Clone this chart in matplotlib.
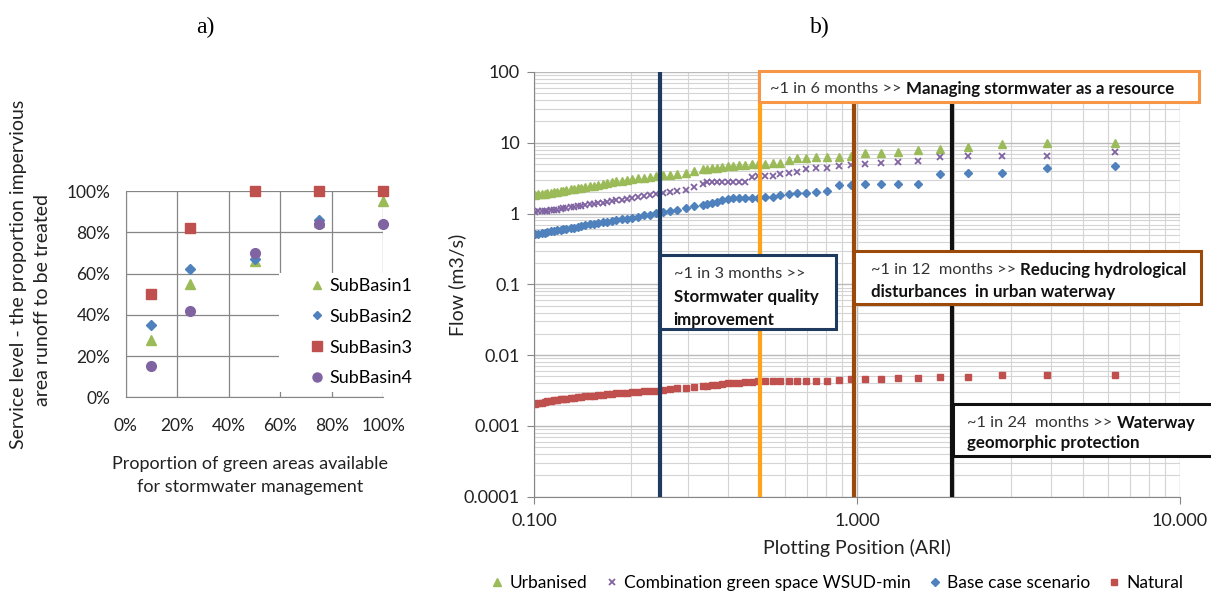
import numpy as np
import matplotlib
matplotlib.use('Agg')
import matplotlib.pyplot as plt
from matplotlib.patches import Rectangle
from matplotlib.text import Annotation
from matplotlib.ticker import PercentFormatter, FuncFormatter, LogLocator, NullFormatter

plt.rcParams['font.family'] = ['Lato', 'DejaVu Sans']

# panel a) data
green_share = [0.10, 0.25, 0.50, 0.75, 1.00]
subbasin1 = [0.28, 0.55, 0.66, 0.85, 0.95]
subbasin2 = [0.35, 0.62, 0.67, 0.86, 0.84]
subbasin3 = [0.50, 0.82, 1.00, 1.00, 1.00]
subbasin4 = [0.15, 0.42, 0.70, 0.84, 0.84]

# panel b) data - plotting position (ARI, years) and flow (m3/s)
ari = [6.277, 3.886, 2.814, 2.205, 1.813, 1.540, 1.338, 1.183, 1.060, 0.960,
       0.877, 0.808, 0.749, 0.697, 0.653, 0.614, 0.579, 0.548, 0.520, 0.495,
       0.472, 0.451, 0.432, 0.414, 0.398, 0.383, 0.369, 0.356, 0.344, 0.333,
       0.313, 0.295, 0.278, 0.264, 0.251, 0.239, 0.229, 0.219, 0.210, 0.201,
       0.194, 0.187, 0.180, 0.174, 0.168, 0.163, 0.158, 0.153, 0.149, 0.144,
       0.140, 0.137, 0.133, 0.130, 0.126, 0.123, 0.121, 0.118, 0.115, 0.113,
       0.110, 0.108, 0.106, 0.103, 0.101]
urbanised = [10.0, 9.8, 9.5, 8.8, 8.3, 7.9, 7.5, 7.2, 7.1, 6.6,
             6.35, 6.2, 6.2, 6.0, 6.0, 5.7, 5.2, 5.15, 5.0, 5.0,
             4.95, 4.9, 4.85, 4.75, 4.65, 4.55, 4.45, 4.4, 4.3, 4.2,
             3.95, 3.7, 3.6, 3.52, 3.45, 3.35, 3.28, 3.22, 3.17, 3.1,
             3.0, 2.92, 2.85, 2.78, 2.7, 2.62, 2.55, 2.49, 2.43, 2.38,
             2.32, 2.27, 2.23, 2.19, 2.15, 2.11, 2.07, 2.03, 2.0, 1.97,
             1.94, 1.91, 1.89, 1.87, 1.84]
combination = [7.3, 6.6, 6.5, 6.5, 6.3, 5.6, 5.35, 5.25, 5.0, 4.8,
               4.75, 4.35, 4.35, 4.2, 3.85, 3.7, 3.65, 3.4, 3.4, 3.35,
               3.3, 2.8, 2.8, 2.8, 2.8, 2.8, 2.8, 2.78, 2.75, 2.65,
               2.4, 2.18, 2.07, 2.01, 1.95, 1.9, 1.83, 1.78, 1.73, 1.68,
               1.63, 1.58, 1.54, 1.5, 1.46, 1.43, 1.4, 1.38, 1.35, 1.33,
               1.3, 1.27, 1.25, 1.22, 1.2, 1.18, 1.16, 1.14, 1.13, 1.12,
               1.1, 1.09, 1.08, 1.07, 1.06]
base_case = [4.75, 4.4, 3.8, 3.7, 3.6, 2.65, 2.65, 2.65, 2.65, 2.55,
             2.5, 2.1, 2.0, 1.95, 1.94, 1.88, 1.82, 1.72, 1.7, 1.68,
             1.68, 1.68, 1.67, 1.65, 1.6, 1.58, 1.45, 1.42, 1.38, 1.34,
             1.28, 1.2, 1.14, 1.08, 1.04, 1.01, 0.97, 0.94, 0.9, 0.87,
             0.85, 0.83, 0.81, 0.79, 0.77, 0.75, 0.73, 0.72, 0.71, 0.69,
             0.67, 0.65, 0.63, 0.62, 0.61, 0.6, 0.59, 0.58, 0.57, 0.56,
             0.55, 0.54, 0.53, 0.52, 0.51]
natural = [0.0053, 0.0052, 0.0052, 0.0049, 0.0049, 0.00476, 0.00476, 0.00466, 0.0046, 0.00466,
           0.0045, 0.00436, 0.00436, 0.00436, 0.00436, 0.0043, 0.0043, 0.0043, 0.0043, 0.00427,
           0.0042, 0.0042, 0.0041, 0.00405, 0.004, 0.0039, 0.0038, 0.00375, 0.0037, 0.00365,
           0.0036, 0.00348, 0.0034, 0.0033, 0.0032, 0.00315, 0.0031, 0.00307, 0.00304, 0.003,
           0.00296, 0.00292, 0.00288, 0.00284, 0.0028, 0.00276, 0.00272, 0.00268, 0.00265, 0.00261,
           0.00257, 0.00254, 0.0025, 0.00247, 0.00243, 0.0024, 0.00238, 0.00234, 0.0023, 0.00226,
           0.00222, 0.00218, 0.00214, 0.00208, 0.00202]
event_ari = [0.245, 0.5, 0.977, 1.97]  # ~1 in 3, 6, 12, 24 months

W, H = 1211, 592
fig = plt.figure(figsize=(W / 100, H / 100), dpi=100)


def fx(px):
    return px / W


def fy(py):
    return 1 - py / H


GRID = '#868686'
TXT = '#222222'

# ---------------- panel a)
ax1 = fig.add_axes([fx(125.7), fy(397.3), (383.3 - 125.7) / W, (397.3 - 191) / H])
ax1.plot(green_share, subbasin1, '^', color='#9bbb59', ms=7, ls='none', clip_on=False, zorder=3, label='SubBasin1')
ax1.plot(green_share, subbasin2, 'D', color='#4f81bd', ms=5, ls='none', clip_on=False, zorder=3, label='SubBasin2')
ax1.plot(green_share, subbasin3, 's', color='#c0504d', ms=7, ls='none', clip_on=False, zorder=3, label='SubBasin3')
ax1.plot(green_share, subbasin4, 'o', color='#8064a2', ms=7, ls='none', clip_on=False, zorder=3, label='SubBasin4')
ax1.set_xlim(0, 1)
ax1.set_ylim(0, 1)
ax1.set_xticks([0, 0.2, 0.4, 0.6, 0.8, 1.0])
ax1.set_yticks([0, 0.2, 0.4, 0.6, 0.8, 1.0])
ax1.xaxis.set_major_formatter(PercentFormatter(1.0, decimals=0))
ax1.yaxis.set_major_formatter(PercentFormatter(1.0, decimals=0))
ax1.grid(True, color=GRID, lw=0.9)
ax1.set_axisbelow(True)
for s in ['top', 'right']:
    ax1.spines[s].set_visible(False)
for s in ['left', 'bottom']:
    ax1.spines[s].set_color(GRID)
ax1.tick_params(axis='both', length=0, labelsize=12.5, colors=TXT)
ax1.tick_params(axis='y', pad=11)
ax1.tick_params(axis='x', pad=15)

# white legend area over the grid
fig.add_artist(Rectangle((fx(279), fy(392)), (422 - 279) / W, (392 - 273) / H,
                         transform=fig.transFigure, facecolor='white', edgecolor='none', zorder=1))
leg_markers = [ax1.plot([], [], m, color=c, ms=s, ls='none')[0]
               for m, c, s in [('^', '#9bbb59', 6), ('D', '#4f81bd', 4.5), ('s', '#c0504d', 6.5), ('o', '#8064a2', 6.5)]]
fig.legend(handles=leg_markers, labels=['SubBasin1', 'SubBasin2', 'SubBasin3', 'SubBasin4'],
           loc='upper left', bbox_to_anchor=(fx(310), fy(278)),
           frameon=False, fontsize=13, handlelength=0.8, handletextpad=0.25,
           borderpad=0, borderaxespad=0, labelspacing=0.82, numpoints=1)

fig.text(fx(250), fy(464), 'Proportion of green areas available', ha='center', va='center', fontsize=13, color=TXT)
fig.text(fx(250), fy(487), 'for stormwater management', ha='center', va='center', fontsize=13, color=TXT)
fig.text(fx(19), fy(274), 'Service level - the proportion impervious', rotation=90,
         ha='center', va='center', fontsize=14, color=TXT)
fig.text(fx(43), fy(300), 'area runoff to be treated', rotation=90,
         ha='center', va='center', fontsize=14, color=TXT)

# ---------------- panel b)
ax2 = fig.add_axes([fx(534), fy(496.7), (1180 - 534) / W, (496.7 - 72) / H])
ax2.set_xscale('log')
ax2.set_yscale('log')
ax2.plot(ari, urbanised, '^', color='#9bbb59', ms=5.5, ls='none', zorder=2, label='Urbanised')
ax2.plot(ari, combination, 'x', color='#8064a2', ms=5, mew=1.3, ls='none', zorder=2,
         label='Combination green space WSUD-min')
ax2.plot(ari, base_case, 'D', color='#4f81bd', ms=4.5, ls='none', zorder=2, label='Base case scenario')
ax2.plot(ari, natural, 's', color='#c0504d', ms=5, ls='none', zorder=2, label='Natural')
ax2.set_xlim(0.1, 10)
ax2.set_ylim(1e-4, 100)
ax2.xaxis.set_major_locator(LogLocator(base=10, numticks=10))
ax2.xaxis.set_minor_locator(LogLocator(base=10, subs=np.arange(2, 10), numticks=100))
ax2.yaxis.set_major_locator(LogLocator(base=10, numticks=10))
ax2.yaxis.set_minor_locator(LogLocator(base=10, subs=np.arange(2, 10), numticks=100))
ax2.xaxis.set_major_formatter(FuncFormatter(lambda v, p: '{:.3f}'.format(v)))
ax2.yaxis.set_major_formatter(FuncFormatter(lambda v, p: '{:g}'.format(v)))
ax2.xaxis.set_minor_formatter(NullFormatter())
ax2.yaxis.set_minor_formatter(NullFormatter())
ax2.grid(True, which='major', color='#bababa', lw=1.0)
ax2.grid(True, which='minor', color='#d4d4d4', lw=0.8)
ax2.set_axisbelow(True)
for s in ['top', 'right']:
    ax2.spines[s].set_visible(False)
for s in ['left', 'bottom']:
    ax2.spines[s].set_color(GRID)
ax2.tick_params(which='minor', length=0)
ax2.tick_params(which='major', length=5, color=GRID, labelsize=13, labelcolor=TXT)
ax2.tick_params(axis='x', which='major', pad=7)
ax2.tick_params(axis='y', which='major', pad=5)

line_cols = ['#1f3a5f', '#ffa31a', '#9c4a0a', '#111111']
for xv, c in zip(event_ari, line_cols):
    ax2.axvline(xv, color=c, lw=3, zorder=4)

fig.text(fx(857), fy(548), 'Plotting Position (ARI)', ha='center', va='center', fontsize=14, color=TXT)
fig.text(fx(457), fy(285), 'Flow (m3/s)', rotation=90, ha='center', va='center', fontsize=14, color=TXT)

fig.legend(handles=ax2.get_lines()[:4], loc='center', bbox_to_anchor=(fx(837), fy(583)), ncol=4,
           frameon=False, fontsize=12.5, handlelength=0.8, handletextpad=0.3, columnspacing=1.0,
           borderpad=0, borderaxespad=0)


def box(x0, y0, x1, y1, color):
    fig.add_artist(Rectangle((fx(x0), fy(y1)), (x1 - x0) / W, (y1 - y0) / H, transform=fig.transFigure,
                             facecolor='white', edgecolor=color, lw=2.2, zorder=2))


def note(px, py, normal, bold=None):
    t = fig.text(fx(px), fy(py), normal, ha='left', va='center', fontsize=11.8, color='#333333', zorder=3)
    if bold:
        a = Annotation(bold, xy=(1, 0.5), xycoords=t, xytext=(3, 0), textcoords='offset points',
                       ha='left', va='center', fontsize=12.2, fontweight='bold', color='#111111')
        a.set_zorder(3)
        fig.add_artist(a)


def bold_line(px, py, s):
    fig.text(fx(px), fy(py), s, ha='left', va='center', fontsize=12.2,
             fontweight='bold', color='#111111', zorder=3)


box(758.7, 71, 1199, 101.7, '#f79646')
note(770, 89, '~1 in 6 months >>', 'Managing stormwater as a resource')

box(659.7, 255, 835.7, 329.3, '#1f3a5f')
note(673.7, 274.3, '~1 in 3 months >>')
bold_line(673.7, 297.3, 'Stormwater quality')
bold_line(673.7, 319.5, 'improvement')

box(854.4, 251, 1201, 304, '#9c4a0a')
note(871, 270, '~1 in 12  months >>', 'Reducing hydrological')
bold_line(871, 291.7, 'disturbances  in urban waterway')

box(953, 404, 1220, 456, '#111111')
note(967, 423.3, '~1 in 24  months >>', 'Waterway')
bold_line(967, 443.3, 'geomorphic protection')

fig.text(fx(205), fy(27), 'a)', family='Liberation Serif', fontsize=17, ha='center', va='center')
fig.text(fx(820), fy(27), 'b)', family='Liberation Serif', fontsize=17, ha='center', va='center')

plt.savefig('out.png', dpi=100)
plt.close()
